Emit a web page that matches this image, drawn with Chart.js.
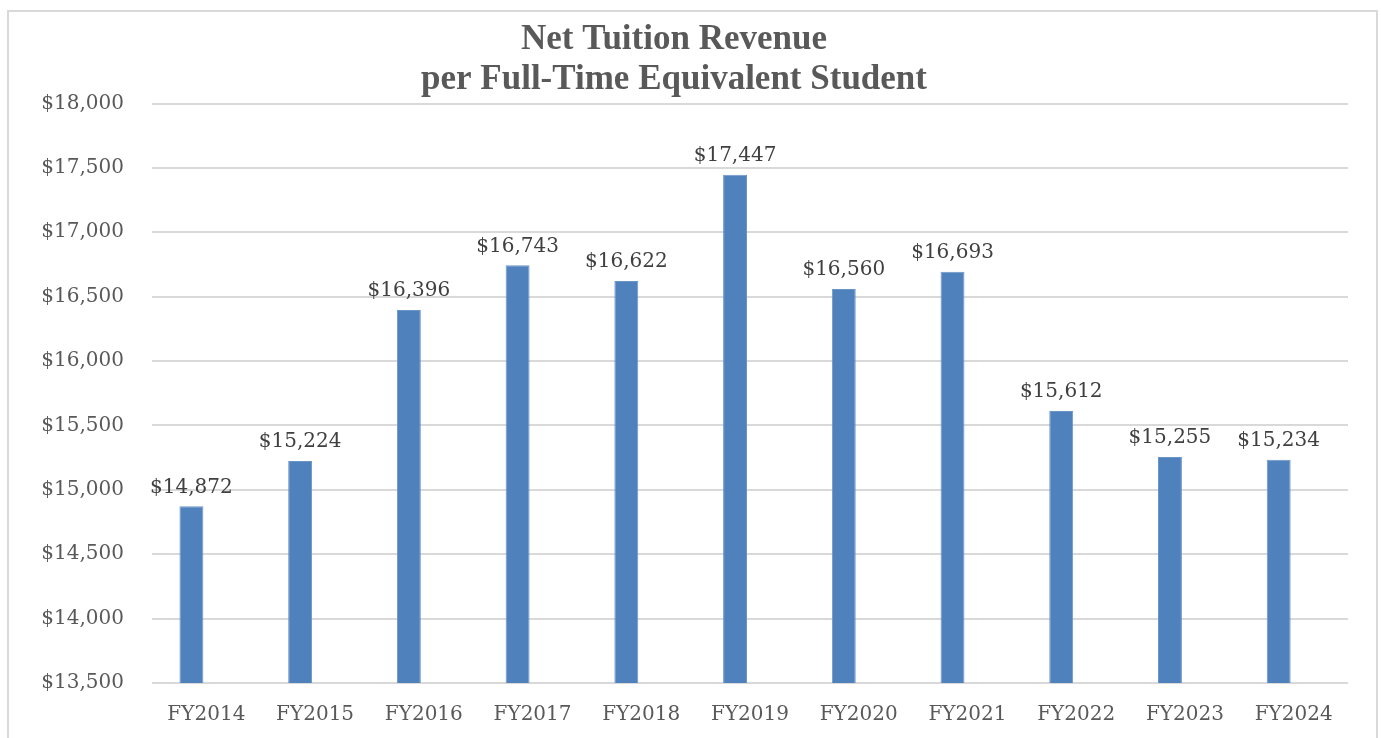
<!DOCTYPE html>
<html>
<head>
<meta charset="utf-8">
<script src="https://cdn.jsdelivr.net/npm/chart.js@4/dist/chart.umd.min.js"></script>
<style>
  html, body { margin: 0; padding: 0; background: #ffffff; }
  #wrap { width: 1381px; height: 738px; position: relative; }
</style>
</head>
<body>
<div id="wrap"><canvas id="myChart" width="1381" height="738"></canvas></div>
<script>
// chart data
const fiscalYears = ["FY2014", "FY2015", "FY2016", "FY2017", "FY2018", "FY2019", "FY2020", "FY2021", "FY2022", "FY2023", "FY2024"];
const netTuition = [14872, 15224, 16396, 16743, 16622, 17447, 16560, 16693, 15612, 15255, 15234];
// the office chart had a second, empty series which pushes the bars left of the tick
const emptySeries = [null, null, null, null, null, null, null, null, null, null, null];
const yMin = 13500;
const yMax = 18000;
const yStep = 500;
const titleLines = ["Net Tuition Revenue", "per Full-Time Equivalent Student"];

const money = (v) => "$" + v.toLocaleString("en-US");

// outer frame like the office chart box
const framePlugin = {
  id: "frame",
  beforeDraw(chart) {
    const ctx = chart.ctx;
    ctx.save();
    ctx.fillStyle = "#ffffff";
    ctx.fillRect(0, 0, chart.width, chart.height);
    ctx.strokeStyle = "#d9d9d9";
    ctx.lineWidth = 2;
    ctx.strokeRect(8, 11, 1369, 800);
    ctx.restore();
  },
};

// value labels above the bars
const barLabels = {
  id: "barLabels",
  afterDatasetsDraw(chart) {
    const ctx = chart.ctx;
    const meta = chart.getDatasetMeta(0);
    ctx.save();
    ctx.font = "20px 'DejaVu Serif'";
    ctx.fillStyle = "#404040";
    ctx.textAlign = "center";
    ctx.textBaseline = "bottom";
    meta.data.forEach((bar, i) => {
      ctx.fillText(money(chart.data.datasets[0].data[i]), bar.x, bar.y - 9);
    });
    ctx.restore();
  },
};

const ctx = document.getElementById("myChart").getContext("2d");
new Chart(ctx, {
  type: "bar",
  data: {
    labels: fiscalYears,
    datasets: [
      {
        data: netTuition,
        backgroundColor: "#4f81bd",
        borderColor: "#6a95c8",
        borderWidth: 1,
        barPercentage: 0.8,
        categoryPercentage: 0.55,
      },
      {
        data: emptySeries,
        backgroundColor: "#c0504d",
        barPercentage: 0.8,
        categoryPercentage: 0.55,
      },
    ],
  },
  options: {
    responsive: false,
    animation: false,
    layout: { padding: { top: 10, right: 33, bottom: 0, left: 0 } },
    plugins: {
      legend: { display: false },
      tooltip: { enabled: false },
      title: {
        display: true,
        text: titleLines,
        color: "#595959",
        font: { family: "'Liberation Serif'", size: 35, weight: "bold", lineHeight: 1.15 },
        padding: { top: 10, bottom: 3 },
      },
    },
    scales: {
      x: {
        grid: { display: false },
        border: { display: false },
        ticks: {
          color: "#595959",
          font: { family: "'DejaVu Serif'", size: 20 },
          padding: 12,
          maxRotation: 0,
        },
        afterFit: (scale) => { scale.height = 55; },
      },
      y: {
        min: yMin,
        max: yMax,
        grid: { color: "#d9d9d9", lineWidth: 2, drawTicks: false },
        border: { display: false },
        ticks: {
          stepSize: yStep,
          color: "#595959",
          font: { family: "'DejaVu Serif'", size: 20 },
          padding: 28,
          callback: (v) => money(v),
        },
        afterFit: (scale) => { scale.width = 152; },
      },
    },
  },
  plugins: [framePlugin, barLabels],
});
</script>
</body>
</html>
